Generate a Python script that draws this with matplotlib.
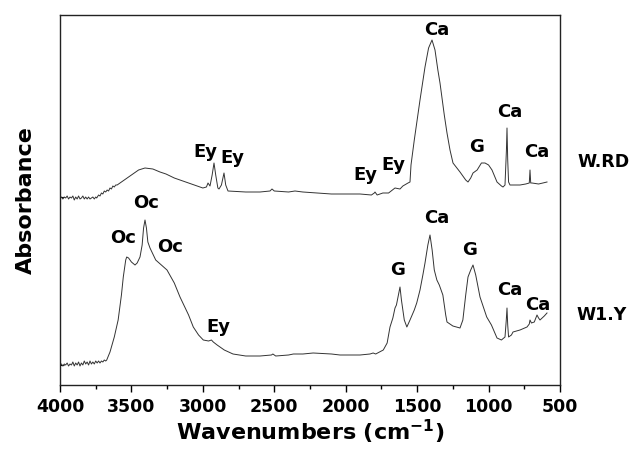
import numpy as np
import matplotlib.pyplot as plt
from matplotlib.ticker import MultipleLocator

plt.rcParams['font.family'] = ['DejaVu Sans']

# W.RD spectrum (wavenumber, absorbance in arbitrary units)
wrd_wn = [4000, 3990, 3980, 3970, 3960, 3950, 3940, 3930, 3920, 3910, 3900, 3890, 3880,
          3870, 3860, 3850, 3840, 3830, 3820, 3810, 3800, 3790, 3780, 3770, 3760, 3750,
          3743, 3730, 3720, 3710, 3700, 3690, 3680, 3670, 3660, 3650, 3640, 3630, 3620,
          3610, 3600, 3560, 3500, 3450, 3405, 3350, 3300,
          3258, 3200, 3100, 3000, 2975, 2964, 2950, 2935, 2922, 2910, 2895, 2887, 2870,
          2852, 2840, 2824, 2700, 2600, 2530, 2516, 2500, 2400, 2355, 2300, 2100, 1900,
          1820, 1800, 1795, 1780, 1740, 1700, 1655, 1620, 1600, 1564, 1550, 1543, 1520,
          1480, 1445, 1420, 1396, 1375, 1355, 1340, 1310, 1291, 1270, 1249, 1200, 1160,
          1144, 1125, 1109, 1080, 1050, 1025, 1000, 976, 941, 910, 899, 885, 875, 871,
          866, 860, 850, 780, 740, 715, 710, 705, 696, 650, 620, 591]
wrd_abs = [187, 188, 186, 188, 187, 189, 186, 188, 187, 189, 185, 188, 186,
           189, 186, 187, 189, 186, 188, 186, 188, 186, 187, 188, 186, 188,
           187, 190, 189, 192, 191, 194, 193, 195, 194, 197, 196, 199, 198,
           200, 200, 204, 210, 215, 217, 216, 213,
           211, 207, 202, 197, 198, 202, 199, 210, 222, 210, 197, 196, 200,
           212, 200, 194, 193, 193, 194, 196, 194, 193, 194, 193, 191, 191,
           190, 192, 193, 190, 192, 192, 197, 196, 199, 202, 203, 220, 245,
           285, 318, 337, 345, 335, 315, 302, 270, 252, 235, 222, 213, 205,
           203, 207, 212, 215, 222, 222, 220, 215, 203, 199, 198, 200, 235, 257,
           225, 203, 200, 200, 201, 202, 215, 202, 202, 201, 202, 203]

# W1.Y spectrum
w1y_wn = [4000, 3990, 3980, 3970, 3960, 3950, 3940, 3930, 3920, 3910, 3900, 3890, 3880,
          3870, 3860, 3850, 3840, 3830, 3820, 3810, 3800, 3790, 3780, 3770, 3760, 3750,
          3740, 3730, 3720, 3710, 3700, 3690, 3680, 3673, 3650, 3620, 3593, 3570, 3557,
          3540, 3533, 3520, 3500, 3475,
          3460, 3440, 3425, 3415, 3405, 3395, 3385, 3370, 3330, 3290, 3251, 3200, 3160,
          3100, 3067, 3030, 2997, 2960, 2940, 2927, 2900, 2880, 2850, 2789, 2700, 2600,
          2520, 2510, 2490, 2400, 2366, 2300, 2228, 2100, 2040, 1900, 1830, 1808, 1790,
          1737, 1710, 1690, 1670, 1655, 1645, 1635, 1620, 1610, 1590, 1572, 1550, 1520,
          1503, 1480, 1460, 1445, 1425, 1410, 1395, 1380, 1362, 1345, 1320, 1300, 1291,
          1250, 1200, 1180, 1160, 1144, 1125, 1109, 1090, 1060, 1013, 980, 941, 910,
          885, 876, 871, 866, 860, 840, 829, 780, 731, 715, 710, 700, 680, 661, 650,
          640, 610, 591]
w1y_abs = [20, 21, 19, 21, 20, 22, 19, 21, 20, 23, 19, 22, 20,
           23, 19, 22, 20, 24, 21, 23, 20, 24, 21, 23, 21, 24,
           22, 24, 22, 24, 23, 25, 24, 25, 33, 48, 65, 90, 108,
           125, 128, 127, 123, 120,
           122, 128, 140, 157, 165, 157, 143, 137, 125, 120, 115, 102, 88,
           70, 58, 50, 45, 44, 45, 43, 40, 38, 35, 31, 29, 29,
           30, 31, 29, 30, 31, 31, 32, 31, 30, 30, 31, 32, 31,
           35, 42, 58, 67, 77, 80, 87, 98, 85, 65, 58, 65, 75,
           82, 95, 110, 122, 140, 150, 135, 115, 105, 100, 90, 70, 63,
           59, 57, 65, 90, 108, 115, 120, 110, 88, 68, 60, 47, 45,
           48, 65, 77, 60, 48, 50, 53, 55, 58, 61, 65, 62, 63, 70, 67,
           65, 69, 72]

# peak labels: (text, wavenumber, height)
wrd_labels = [("Ey", 2985, 233), ("Ey", 2796, 227), ("Ey", 1865, 210), ("Ey", 1669, 220),
              ("Ca", 1361, 355), ("G", 1081, 238), ("Ca", 850, 273), ("Ca", 661, 233)]
w1y_labels = [("Oc", 3559, 147), ("Oc", 3398, 182), ("Oc", 3230, 138), ("Ey", 2894, 58),
              ("G", 1634, 115), ("Ca", 1361, 167), ("G", 1130, 135), ("Ca", 850, 95),
              ("Ca", 654, 80)]

fig = plt.figure(figsize=(6.35, 4.51), dpi=100)
ax = fig.add_axes([60 / 635, 66 / 451, 500 / 635, 370 / 451])

ax.plot(wrd_wn, wrd_abs, color='#333333', lw=0.7)
ax.plot(w1y_wn, w1y_abs, color='#333333', lw=0.7)

for txt, x, y in wrd_labels + w1y_labels:
    ax.text(x, y, txt, ha='center', va='center', fontsize=13, fontweight='bold')

ax.text(10, 223, "W.RD", ha='right', va='center', fontsize=12.5, fontweight='bold', clip_on=False)
ax.text(30, 70, "W1.Y", ha='right', va='center', fontsize=12.5, fontweight='bold', clip_on=False)

ax.set_xlim(4000, 500)
ax.set_ylim(0, 370)
ax.xaxis.set_major_locator(MultipleLocator(500))
ax.xaxis.set_minor_locator(MultipleLocator(250))
ax.tick_params(axis='x', which='major', length=5, width=1, labelsize=12.5, pad=4)
ax.tick_params(axis='x', which='minor', length=3, width=1)
for lab in ax.get_xticklabels():
    lab.set_fontweight('bold')

ax.set_yticks([188, 20])
ax.set_yticklabels([])
ax.tick_params(axis='y', direction='in', length=3, width=0.8)

ax.set_xlabel('Wavenumbers (cm$^{\\mathbf{-1}}$)', fontsize=16, fontweight='bold', labelpad=2)
ax.set_ylabel('Absorbance', fontsize=16, fontweight='bold', labelpad=14)
for s in ax.spines.values():
    s.set_linewidth(1)
    s.set_color('#222222')

fig.savefig('out.png', dpi=100)
